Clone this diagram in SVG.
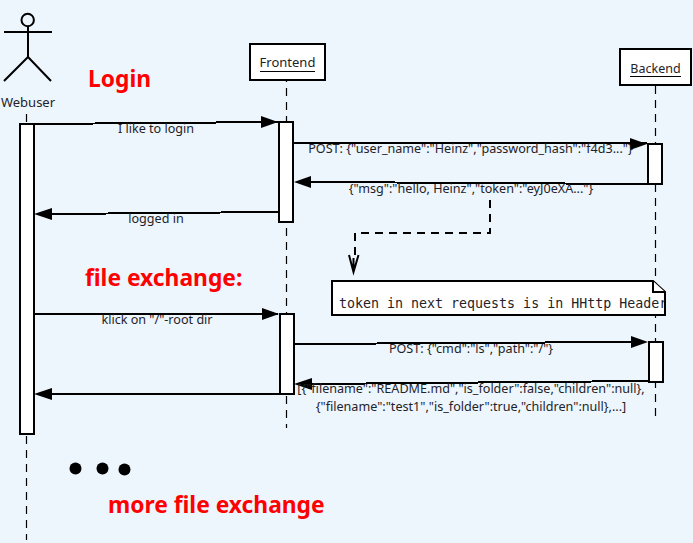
<svg xmlns="http://www.w3.org/2000/svg" width="693" height="543" viewBox="0 0 693 543">
<defs><clipPath id="noteclip"><rect x="332" y="281" width="333" height="34"/></clipPath></defs>
<style>
text{font-family:"Noto Sans","DejaVu Sans",sans-serif;font-size:12.6px;fill:#1f2328;text-anchor:middle}
.box{fill:#fff;stroke:#000;stroke-width:2}
.life{fill:none;stroke:#000;stroke-width:1.2;stroke-dasharray:8 6}
.msg{fill:none;stroke:#000;stroke-width:2;shape-rendering:crispEdges}
.head{fill:#000;stroke:none}
.red{fill:#f00;font-weight:700;text-anchor:start;font-size:22.800px}
.u{stroke:#000;stroke-width:1}
.actor{fill:none;stroke:#000;stroke-width:2}
</style>
<rect width="693" height="543" fill="#edf5fd"/>
<g id="lifelines">
<path class="life" d="M26.500 114V540"/>
<path class="life" d="M286.500 74V428"/>
<path class="life" d="M655.500 86V416"/>
</g>
<g id="webuser">
<circle class="actor" cx="27.700" cy="20" r="6.200"/>
<path class="actor" d="M28 26V57M4 32H52M28 57L4 81M28 57L51 81"/>
<text x="28" y="107" style="font-size:13px">Webuser</text>
<rect class="box" x="20" y="124" width="14" height="310"/>
</g>
<g id="frontend">
<rect class="box" x="250" y="44" width="75" height="36"/>
<text x="287.500" y="67" style="font-size:13px">Frontend</text>
<path class="u" d="M260 71.500H315"/>
<rect class="box" x="279" y="122" width="14" height="100"/>
<rect class="box" x="280" y="314" width="14" height="80"/>
</g>
<g id="backend">
<rect class="box" x="620" y="49" width="71" height="36"/>
<text x="655.500" y="73" style="font-size:12.500px">Backend</text>
<path class="u" d="M630 76.500H681"/>
<rect class="box" x="648" y="144" width="14" height="40"/>
<rect class="box" x="649" y="342" width="14" height="40"/>
</g>
<g id="connectors">
<path class="msg" d="M34 124L278 122"/>
<path class="head" d="M261 116L278 122L261 128Z"/>
<path class="msg" d="M293 142.500L647 143.500"/>
<path class="head" d="M630 138L647 144L630 150Z"/>
<path class="msg" d="M648 184L310 182"/>
<path class="head" d="M294 182L311 176L311 188Z"/>
<path class="msg" d="M279 212L51 214"/>
<path class="head" d="M34 214L52 208L52 220Z"/>
<path class="msg" d="M34 314H278"/>
<path class="head" d="M262 308L279 314L262 320Z"/>
<path class="msg" d="M294 344L631 342"/>
<path class="head" d="M631 336L648 342L631 348Z"/>
<path class="msg" d="M649 381L310 384"/>
<path class="head" d="M294 384L312 378L312 390Z"/>
<path class="msg" d="M280 394H51"/>
<path class="head" d="M34 394L52 388L52 400Z"/>
<path fill="none" stroke="#000" stroke-width="2" stroke-dasharray="8 6" d="M490 200V233H355V255"/>
<path fill="none" stroke="#000" stroke-width="2" d="M349 255L353.500 272L358.500 255M353.500 258V268"/>
</g>
<g id="note">
<path class="box" d="M332 281H653L665 292V315H332Z"/>
<path class="box" d="M653 281V292H665"/>
<text x="339" y="307.500" clip-path="url(#noteclip)" style="font-family:'DejaVu Sans Mono',monospace;font-size:13.300px;text-anchor:start">token in next requests is in HHttp Header</text>
</g>
<g id="labels">
<text x="156" y="133">I like to login</text>
<text x="470.500" y="153">POST: {"user_name":"Heinz","password_hash":"f4d3..."}</text>
<text x="471" y="193">{"msg":"hello, Heinz","token":"eyJ0eXA..."}</text>
<text x="156" y="223">logged in</text>
<text x="157" y="324">klick on "/"-root dir</text>
<text x="471" y="353">POST: {"cmd":"ls","path":"/"}</text>
<text x="471" y="393">[{"filename":"README.md","is_folder":false,"children":null},</text>
<text x="471" y="411">{"filename":"test1","is_folder":true,"children":null},...]</text>
<text class="red" x="88" y="87">Login</text>
<text class="red" x="85" y="286">file exchange:</text>
<text class="red" x="108" y="513">more file exchange</text>
</g>
<g id="dots">
<circle cx="75.500" cy="468.500" r="6"/>
<circle cx="102.500" cy="468.500" r="6"/>
<circle cx="124.500" cy="469.500" r="6"/>
</g>
</svg>
